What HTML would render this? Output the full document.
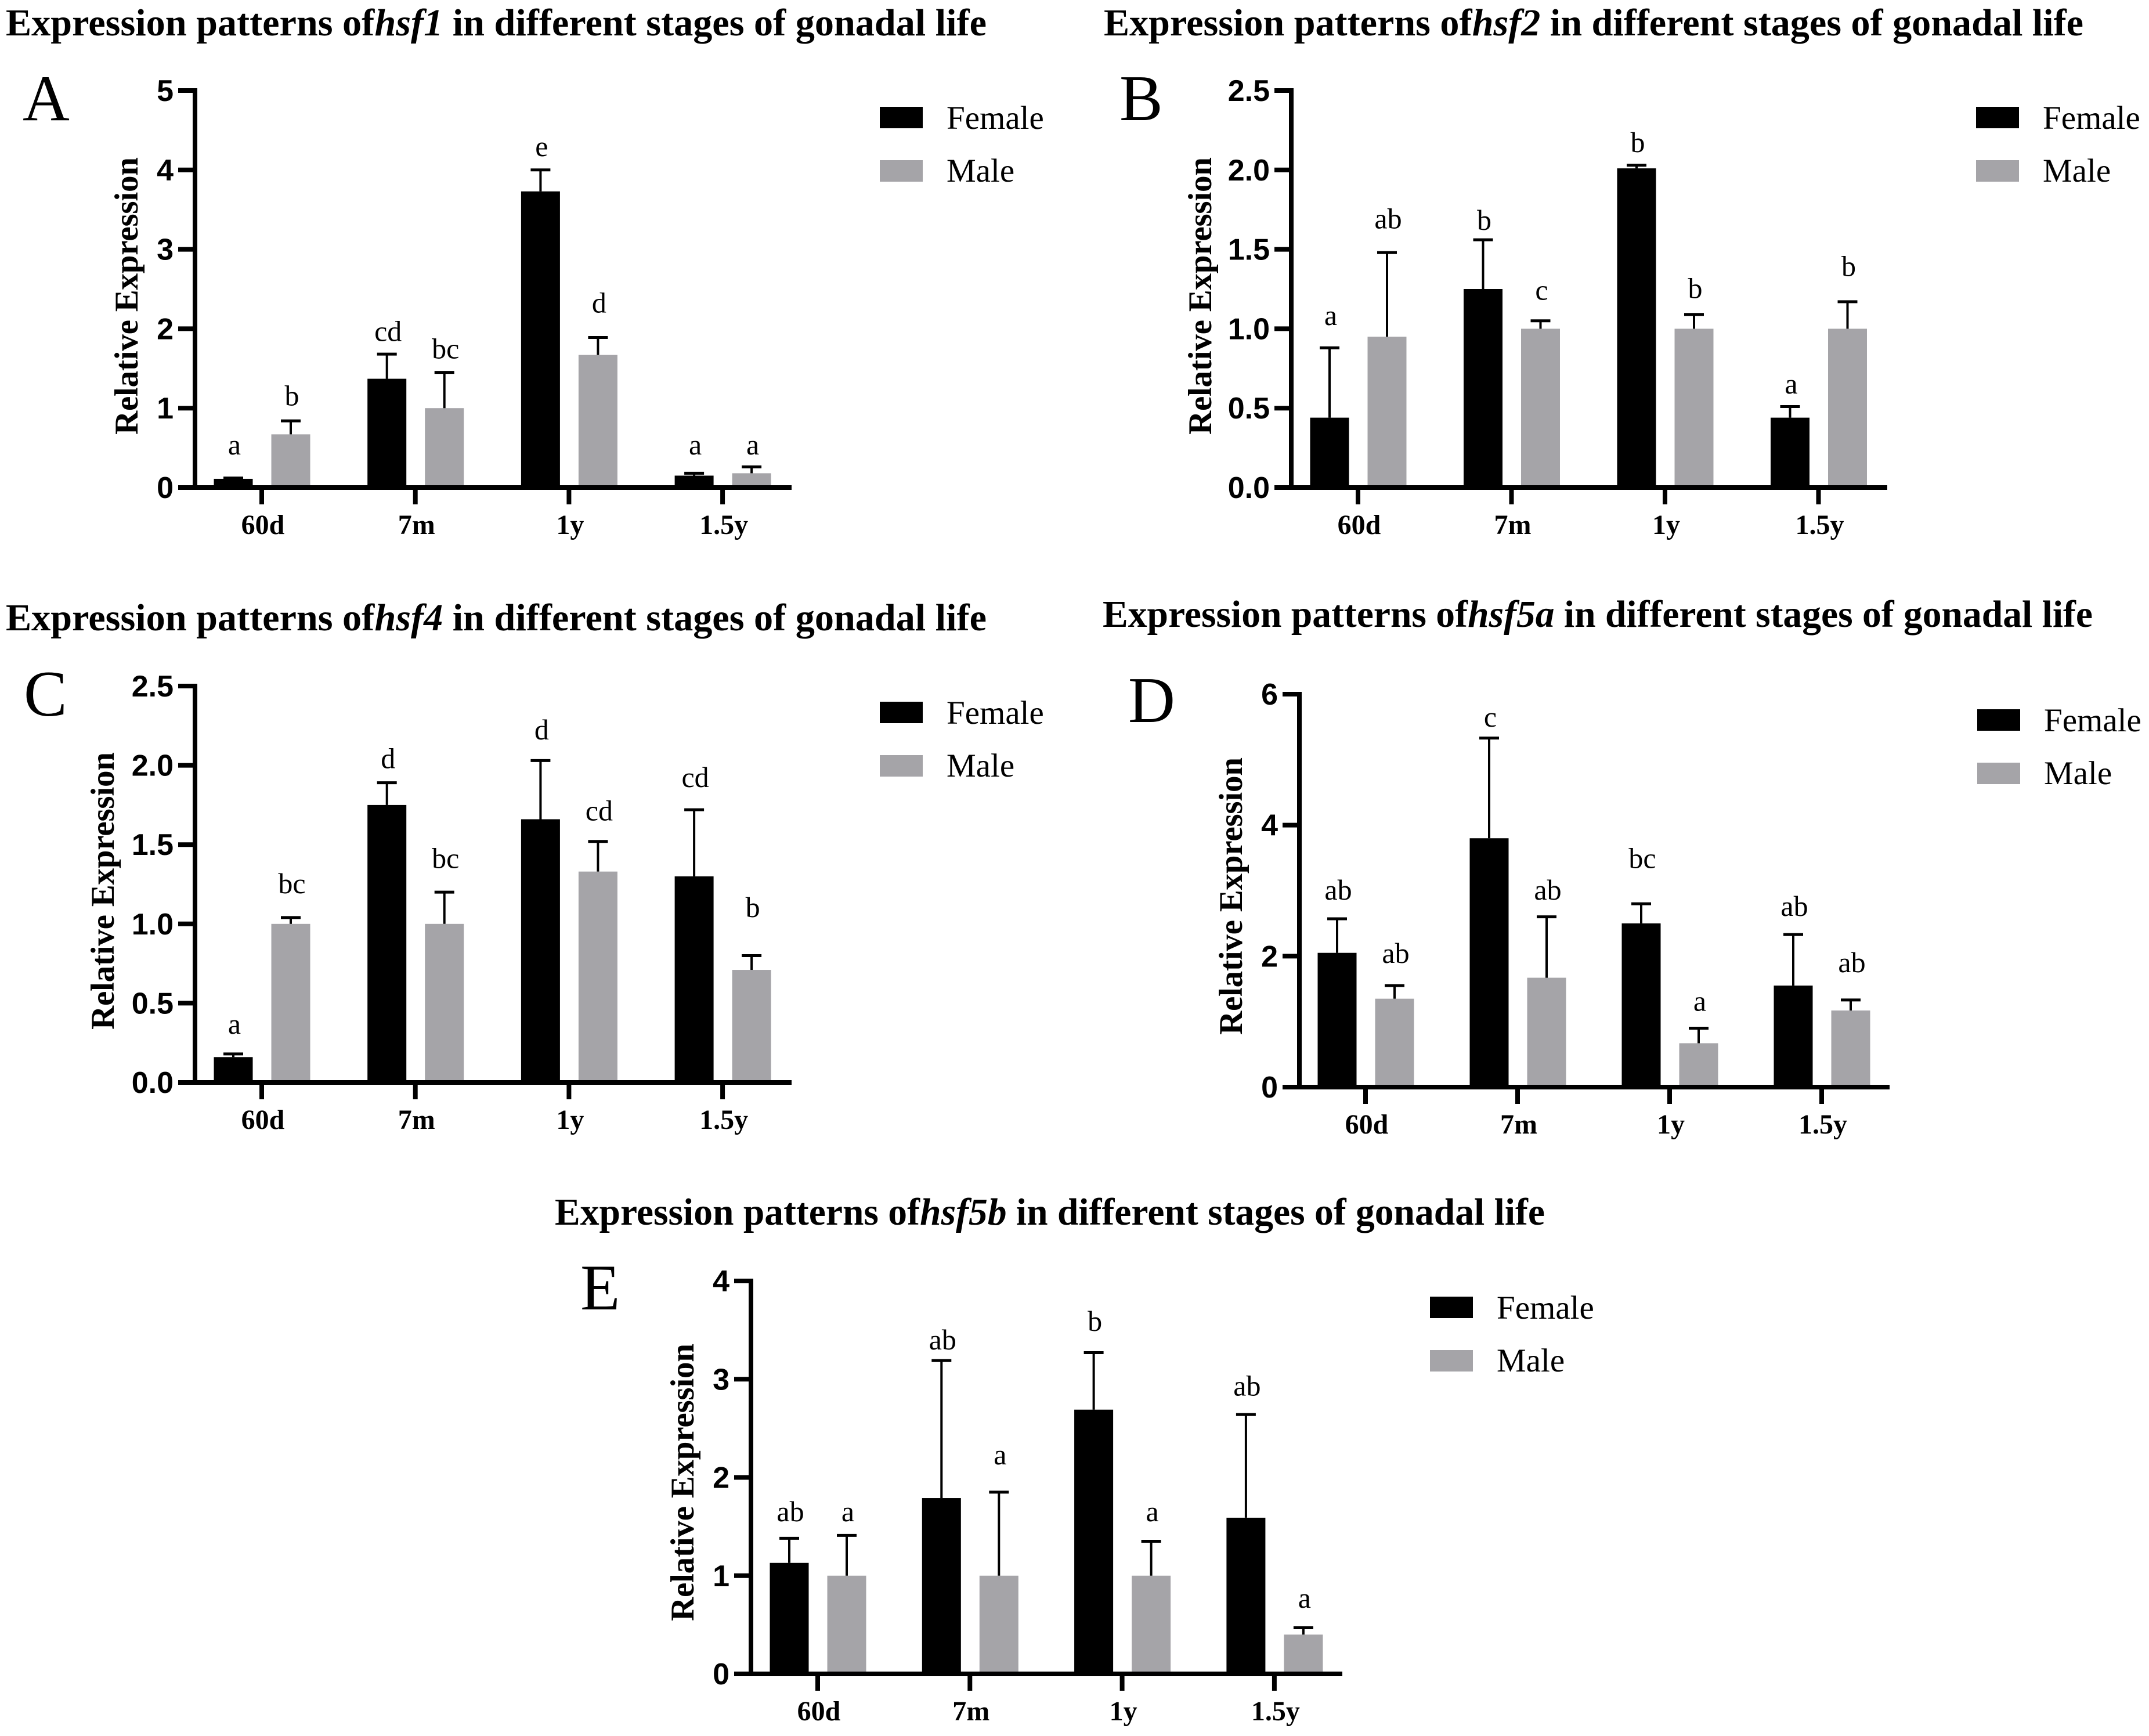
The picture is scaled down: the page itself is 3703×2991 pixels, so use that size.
<!DOCTYPE html>
<html lang="en">
<head>
<meta charset="utf-8">
<title>Expression patterns of hsf genes in different stages of gonadal life</title>
<style>
html,body{margin:0;padding:0;background:#fff;}
svg{display:block;}
.title{font-family:"Liberation Serif",serif;font-weight:bold;font-size:66px;fill:#000;}
.letter{font-family:"Liberation Serif",serif;font-size:112px;fill:#000;}
.ytitle{font-family:"Liberation Serif",serif;font-weight:bold;font-size:57px;fill:#000;}
.ytick{font-family:"Liberation Sans",sans-serif;font-weight:bold;font-size:52px;fill:#000;text-anchor:end;}
.xtick{font-family:"Liberation Serif",serif;font-weight:bold;font-size:48px;fill:#000;text-anchor:middle;}
.sig{font-family:"Liberation Serif",serif;font-size:50px;fill:#000;text-anchor:middle;}
.legend{font-family:"Liberation Serif",serif;font-size:57px;fill:#000;}
</style>
</head>
<body>
<svg id="figure" xmlns="http://www.w3.org/2000/svg" width="3703" height="2991" viewBox="0 0 3703 2991">
<rect width="3703" height="2991" fill="#fff"/>
<text class="title" x="10" y="61" textLength="1690" lengthAdjust="spacingAndGlyphs">Expression patterns of<tspan font-size="1"> </tspan><tspan font-style="italic">hsf1</tspan> in different stages of gonadal life</text>
<text class="title" x="1902" y="61" textLength="1688" lengthAdjust="spacingAndGlyphs">Expression patterns of<tspan font-size="1"> </tspan><tspan font-style="italic">hsf2</tspan> in different stages of gonadal life</text>
<text class="title" x="10" y="1086" textLength="1690" lengthAdjust="spacingAndGlyphs">Expression patterns of<tspan font-size="1"> </tspan><tspan font-style="italic">hsf4</tspan> in different stages of gonadal life</text>
<text class="title" x="1900" y="1080" textLength="1706" lengthAdjust="spacingAndGlyphs">Expression patterns of<tspan font-size="1"> </tspan><tspan font-style="italic">hsf5a</tspan> in different stages of gonadal life</text>
<text class="title" x="956" y="2110" textLength="1706" lengthAdjust="spacingAndGlyphs">Expression patterns of<tspan font-size="1"> </tspan><tspan font-style="italic">hsf5b</tspan> in different stages of gonadal life</text>
<text class="letter" x="39" y="207">A</text>
<text class="letter" x="1929" y="207">B</text>
<text class="letter" x="41" y="1233">C</text>
<text class="letter" x="1944" y="1244">D</text>
<text class="letter" x="1000" y="2256">E</text>
<g id="panel-a"></g>
<g id="panel-b"></g>
<g id="panel-c"></g>
<g id="panel-d"></g>
<g id="panel-e"></g>
</svg>
<script>
const categories = ['60d', '7m', '1y', '1.5y'];

const ticksA = ['0', '1', '2', '3', '4', '5'];
const femaleA = [0.11, 1.37, 3.73, 0.15];
const femaleUpperA = [0.12, 1.68, 4.0, 0.18];
const maleA = [0.67, 1.0, 1.67, 0.18];
const maleUpperA = [0.84, 1.45, 1.89, 0.26];
const femaleSigA = ['a', 'cd', 'e', 'a'];
const maleSigA = ['b', 'bc', 'd', 'a'];
const femaleSigLevelA = [0.51, 1.94, 4.27, 0.51];
const maleSigLevelA = [1.13, 1.72, 2.3, 0.51];

const ticksB = ['0.0', '0.5', '1.0', '1.5', '2.0', '2.5'];
const femaleB = [0.44, 1.25, 2.01, 0.44];
const femaleUpperB = [0.88, 1.56, 2.03, 0.51];
const maleB = [0.95, 1.0, 1.0, 1.0];
const maleUpperB = [1.48, 1.05, 1.09, 1.17];
const femaleSigB = ['a', 'b', 'b', 'a'];
const maleSigB = ['ab', 'c', 'b', 'b'];
const femaleSigLevelB = [1.07, 1.67, 2.16, 0.64];
const maleSigLevelB = [1.68, 1.23, 1.24, 1.38];

const ticksC = ['0.0', '0.5', '1.0', '1.5', '2.0', '2.5'];
const femaleC = [0.16, 1.75, 1.66, 1.30];
const femaleUpperC = [0.18, 1.89, 2.03, 1.72];
const maleC = [1.0, 1.0, 1.33, 0.71];
const maleUpperC = [1.04, 1.20, 1.52, 0.80];
const femaleSigC = ['a', 'd', 'd', 'cd'];
const maleSigC = ['bc', 'bc', 'cd', 'b'];
const femaleSigLevelC = [0.355, 2.03, 2.21, 1.91];
const maleSigLevelC = [1.24, 1.40, 1.70, 1.09];

const ticksD = ['0', '2', '4', '6'];
const femaleD = [2.05, 3.8, 2.5, 1.55];
const femaleUpperD = [2.57, 5.33, 2.8, 2.33];
const maleD = [1.35, 1.67, 0.67, 1.17];
const maleUpperD = [1.55, 2.6, 0.9, 1.33];
const femaleSigD = ['ab', 'c', 'bc', 'ab'];
const maleSigD = ['ab', 'ab', 'a', 'ab'];
const femaleSigLevelD = [2.98, 5.62, 3.46, 2.73];
const maleSigLevelD = [2.01, 2.98, 1.28, 1.87];

const ticksE = ['0', '1', '2', '3', '4'];
const femaleE = [1.13, 1.79, 2.69, 1.59];
const femaleUpperE = [1.38, 3.19, 3.27, 2.64];
const maleE = [1.0, 1.0, 1.0, 0.4];
const maleUpperE = [1.41, 1.85, 1.35, 0.47];
const femaleSigE = ['ab', 'ab', 'b', 'ab'];
const maleSigE = ['a', 'a', 'a', 'a'];
const femaleSigLevelE = [1.63, 3.38, 3.57, 2.91];
const maleSigLevelE = [1.63, 2.21, 1.63, 0.75];

const GRAY = '#a5a4a8';
const NS = 'http://www.w3.org/2000/svg';

function make(parent, tag, attrs, text) {
  const node = document.createElementNS(NS, tag);
  for (const key in attrs) node.setAttribute(key, attrs[key]);
  if (text !== undefined) node.textContent = text;
  parent.appendChild(node);
  return node;
}

function drawSeries(g, p, xScale, yScale, values, uppers, sigs, levels, colour, offset) {
  values.forEach(function (v, i) {
    const cx = xScale(i) + offset;
    const top = yScale(v);
    const barEl = make(g, 'rect', {x: cx - 33.5, y: top, width: 67, height: p.y0 - top, fill: colour});
    
    
    const up = yScale(uppers[i]);
    const errEl = make(g, 'line', {x1: cx, x2: cx, y1: top, y2: up, stroke: '#000', 'stroke-width': 4});
    
    
    const capEl = make(g, 'line', {x1: cx - 17, x2: cx + 17, y1: up, y2: up, stroke: '#000', 'stroke-width': 5});
    
    
    const sigEl = make(g, 'text', {class: 'sig', x: cx + 2, y: yScale(levels[i]) + 13}, sigs[i]);
    
    
  });
}

function drawPanel(id, p, ticks, female, femaleUpper, male, maleUpper, femaleSig, maleSig, femaleLevel, maleLevel) {
  const g = document.getElementById(id);
  const tickMax = parseFloat(ticks[ticks.length - 1]);
  const yScale = function (v) { return p.y0 - (v / tickMax) * (p.y0 - p.yTop); };
  const xScale = function (i) { return p.x0 + i * p.dx; };

  drawSeries(g, p, xScale, yScale, female, femaleUpper, femaleSig, femaleLevel, '#000', -49);
  drawSeries(g, p, xScale, yScale, male, maleUpper, maleSig, maleLevel, GRAY, 50);

  const yAxis = make(g, 'line', {x1: p.ax, x2: p.ax, y1: p.yTop - 4, y2: p.y0 + 4, stroke: '#000', 'stroke-width': 8});
  
  
  const xAxis = make(g, 'line', {x1: p.ax - 29, x2: p.xEnd, y1: p.y0, y2: p.y0, stroke: '#000', 'stroke-width': 8});
  
  

  ticks.forEach(function (label) {
    const y = yScale(parseFloat(label));
    const tickEl = make(g, 'line', {x1: p.ax - 29, x2: p.ax, y1: y, y2: y, stroke: '#000', 'stroke-width': 8});
    
    
    const tickText = make(g, 'text', {class: 'ytick', x: p.ax - 37, y: y + 18}, label);
    
    
  });

  categories.forEach(function (label, i) {
    const x = xScale(i);
    const tickEl = make(g, 'line', {x1: x, x2: x, y1: p.y0, y2: p.y0 + 29, stroke: '#000', 'stroke-width': 8});
    
    
    const tickText = make(g, 'text', {class: 'xtick', x: x + 2, y: p.y0 + 80}, label);
    
    
  });

  const yTitle = make(g, 'text', {
    class: 'ytitle',
    transform: 'translate(' + p.titleX + ',' + p.titleY + ') rotate(-90)',
    x: -239, y: 0, textLength: 478, lengthAdjust: 'spacing'
  }, 'Relative Expression');
  
  

  const swF = make(g, 'rect', {x: p.legX, y: p.legY, width: 74, height: 37, fill: '#000'});
  
  
  const txF = make(g, 'text', {class: 'legend', x: p.legX + 115, y: p.legY + 38}, 'Female');
  
  
  const swM = make(g, 'rect', {x: p.legX, y: p.legY + 92, width: 74, height: 37, fill: GRAY});
  
  
  const txM = make(g, 'text', {class: 'legend', x: p.legX + 115, y: p.legY + 129}, 'Male');
  
  
}

drawPanel('panel-a', {ax: 336, xEnd: 1364, y0: 840, yTop: 156, x0: 451, dx: 264.7, titleX: 237, titleY: 510, legX: 1516, legY: 184},
  ticksA, femaleA, femaleUpperA, maleA, maleUpperA, femaleSigA, maleSigA, femaleSigLevelA, maleSigLevelA);
drawPanel('panel-b', {ax: 2225, xEnd: 3252, y0: 840, yTop: 156, x0: 2340, dx: 264.5, titleX: 2087, titleY: 510, legX: 3405, legY: 184},
  ticksB, femaleB, femaleUpperB, maleB, maleUpperB, femaleSigB, maleSigB, femaleSigLevelB, maleSigLevelB);
drawPanel('panel-c', {ax: 336, xEnd: 1364, y0: 1865, yTop: 1182, x0: 451, dx: 264.7, titleX: 196, titleY: 1535, legX: 1516, legY: 1209},
  ticksC, femaleC, femaleUpperC, maleC, maleUpperC, femaleSigC, maleSigC, femaleSigLevelC, maleSigLevelC);
drawPanel('panel-d', {ax: 2239, xEnd: 3256, y0: 1873, yTop: 1196, x0: 2353, dx: 262, titleX: 2140, titleY: 1544, legX: 3407, legY: 1222},
  ticksD, femaleD, femaleUpperD, maleD, maleUpperD, femaleSigD, maleSigD, femaleSigLevelD, maleSigLevelD);
drawPanel('panel-e', {ax: 1294, xEnd: 2313, y0: 2884, yTop: 2207, x0: 1409, dx: 262.3, titleX: 1195, titleY: 2554, legX: 2464, legY: 2234},
  ticksE, femaleE, femaleUpperE, maleE, maleUpperE, femaleSigE, maleSigE, femaleSigLevelE, maleSigLevelE);
</script>
</body>
</html>
